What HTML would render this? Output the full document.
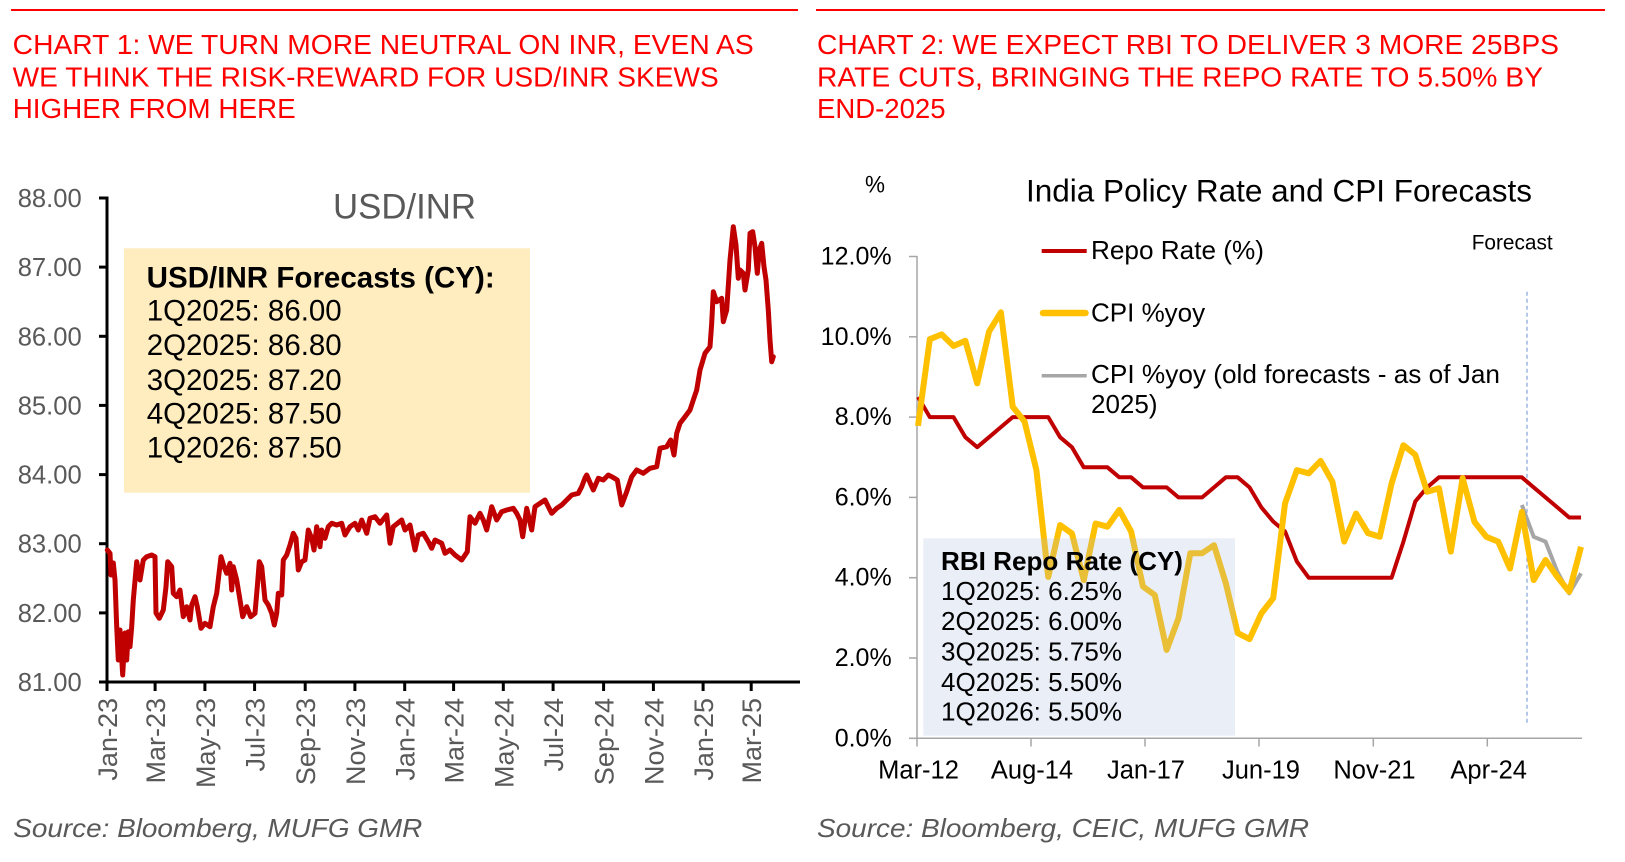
<!DOCTYPE html>
<html>
<head>
<meta charset="utf-8">
<style>
html,body{margin:0;padding:0;background:#fff;}
svg{display:block;}
text{font-family:"Liberation Sans",Arial,sans-serif;}
</style>
</head>
<body>
<svg width="1625" height="862" viewBox="0 0 1625 862" xmlns="http://www.w3.org/2000/svg">
<rect x="0" y="0" width="1625" height="862" fill="#fff"/>

<!-- Top red rules -->
<line x1="11" y1="10" x2="798" y2="10" stroke="#f00" stroke-width="2"/>
<line x1="816" y1="10" x2="1605" y2="10" stroke="#f00" stroke-width="2"/>

<!-- Titles -->
<g fill="#f00" font-size="28">
<text x="12.7" y="54" textLength="741" lengthAdjust="spacingAndGlyphs">CHART 1: WE TURN MORE NEUTRAL ON INR, EVEN AS</text>
<text x="12.7" y="86.5" textLength="706" lengthAdjust="spacingAndGlyphs">WE THINK THE RISK-REWARD FOR USD/INR SKEWS</text>
<text x="12.7" y="118" textLength="283" lengthAdjust="spacingAndGlyphs">HIGHER FROM HERE</text>
<text x="817" y="54" textLength="742" lengthAdjust="spacingAndGlyphs">CHART 2: WE EXPECT RBI TO DELIVER 3 MORE 25BPS</text>
<text x="817" y="86.5" textLength="726" lengthAdjust="spacingAndGlyphs">RATE CUTS, BRINGING THE REPO RATE TO 5.50% BY</text>
<text x="817" y="118" textLength="128.5" lengthAdjust="spacingAndGlyphs">END-2025</text>
</g>

<!-- ================= CHART 1 ================= -->
<text x="333" y="218.3" font-size="35" fill="#595959" textLength="143" lengthAdjust="spacingAndGlyphs">USD/INR</text>

<rect x="124" y="248.3" width="406" height="244.4" fill="#FFEDC0"/>
<g fill="#000" font-size="29.5">
<text x="146.7" y="287.3" font-weight="bold" textLength="348" lengthAdjust="spacingAndGlyphs">USD/INR Forecasts (CY):</text>
<text x="146.7" y="320.7" textLength="195" lengthAdjust="spacingAndGlyphs">1Q2025: 86.00</text>
<text x="146.7" y="355" textLength="195" lengthAdjust="spacingAndGlyphs">2Q2025: 86.80</text>
<text x="146.7" y="390" textLength="195" lengthAdjust="spacingAndGlyphs">3Q2025: 87.20</text>
<text x="146.7" y="423.3" textLength="195" lengthAdjust="spacingAndGlyphs">4Q2025: 87.50</text>
<text x="146.7" y="457.7" textLength="195" lengthAdjust="spacingAndGlyphs">1Q2026: 87.50</text>
</g>

<!-- y labels -->
<g fill="#595959" font-size="26" text-anchor="end">
<text x="81.7" y="207" textLength="64" lengthAdjust="spacingAndGlyphs">88.00</text>
<text x="81.7" y="276.1" textLength="64" lengthAdjust="spacingAndGlyphs">87.00</text>
<text x="81.7" y="345.3" textLength="64" lengthAdjust="spacingAndGlyphs">86.00</text>
<text x="81.7" y="414.4" textLength="64" lengthAdjust="spacingAndGlyphs">85.00</text>
<text x="81.7" y="483.6" textLength="64" lengthAdjust="spacingAndGlyphs">84.00</text>
<text x="81.7" y="552.7" textLength="64" lengthAdjust="spacingAndGlyphs">83.00</text>
<text x="81.7" y="621.9" textLength="64" lengthAdjust="spacingAndGlyphs">82.00</text>
<text x="81.7" y="691" textLength="64" lengthAdjust="spacingAndGlyphs">81.00</text>
</g>

<!-- axes -->
<g stroke="#000" stroke-width="3">
<line x1="107" y1="196.5" x2="107" y2="683.5"/>
<line x1="105.5" y1="682" x2="800" y2="682"/>
<line x1="99" y1="198" x2="107" y2="198"/>
<line x1="99" y1="267.1" x2="107" y2="267.1"/>
<line x1="99" y1="336.3" x2="107" y2="336.3"/>
<line x1="99" y1="405.4" x2="107" y2="405.4"/>
<line x1="99" y1="474.6" x2="107" y2="474.6"/>
<line x1="99" y1="543.7" x2="107" y2="543.7"/>
<line x1="99" y1="612.9" x2="107" y2="612.9"/>
<line x1="99" y1="682" x2="107" y2="682"/>
<line x1="107" y1="682" x2="107" y2="691"/>
<line x1="155.1" y1="682" x2="155.1" y2="691"/>
<line x1="204.9" y1="682" x2="204.9" y2="691"/>
<line x1="254.6" y1="682" x2="254.6" y2="691"/>
<line x1="305.2" y1="682" x2="305.2" y2="691"/>
<line x1="354.9" y1="682" x2="354.9" y2="691"/>
<line x1="404.7" y1="682" x2="404.7" y2="691"/>
<line x1="453.6" y1="682" x2="453.6" y2="691"/>
<line x1="503.3" y1="682" x2="503.3" y2="691"/>
<line x1="553.1" y1="682" x2="553.1" y2="691"/>
<line x1="603.6" y1="682" x2="603.6" y2="691"/>
<line x1="653.4" y1="682" x2="653.4" y2="691"/>
<line x1="703.1" y1="682" x2="703.1" y2="691"/>
<line x1="751.2" y1="682" x2="751.2" y2="691"/>
</g>

<!-- x labels rotated -->
<g fill="#595959" font-size="27" text-anchor="end">
<text transform="translate(117,698) rotate(-90)">Jan-23</text>
<text transform="translate(165.1,698) rotate(-90)">Mar-23</text>
<text transform="translate(214.9,698) rotate(-90)">May-23</text>
<text transform="translate(264.6,698) rotate(-90)">Jul-23</text>
<text transform="translate(315.2,698) rotate(-90)">Sep-23</text>
<text transform="translate(364.9,698) rotate(-90)">Nov-23</text>
<text transform="translate(414.7,698) rotate(-90)">Jan-24</text>
<text transform="translate(463.6,698) rotate(-90)">Mar-24</text>
<text transform="translate(513.3,698) rotate(-90)">May-24</text>
<text transform="translate(563.1,698) rotate(-90)">Jul-24</text>
<text transform="translate(613.6,698) rotate(-90)">Sep-24</text>
<text transform="translate(663.4,698) rotate(-90)">Nov-24</text>
<text transform="translate(713.1,698) rotate(-90)">Jan-25</text>
<text transform="translate(761.2,698) rotate(-90)">Mar-25</text>
</g>

<!-- USD/INR series -->
<polyline fill="none" stroke="#C00000" stroke-width="5" stroke-linejoin="round" stroke-linecap="round" points="107.3,550 110,553.3 111,575 113.3,563 115,580 116.7,626.7 118.3,660 120,630 122.7,675 125,633 126.7,660 128.3,631.7 130,646.7 131.7,626.7 133.3,600 136.7,561.7 140,580 143.3,560 146.7,556.7 151.7,555 155,556.7 156,613 159.3,618.3 163.3,610 166,586.7 167.7,561.7 171.7,566.7 173.3,593.3 176.7,596.7 180,590 183.3,616.7 186.7,606.7 190,620 191.7,605 195,596.7 197.3,606.7 201,628.3 205,623.3 210,626.7 213.3,606.7 216.7,593.3 221,556.7 224,566.7 226.7,573.3 230,563.3 231.7,590 233.3,566.7 236.7,580 240,600 242.7,616.7 246.7,606.7 250.7,616.7 255,613.3 257.3,586.7 259.3,561.7 261.7,566.7 265,600 268.3,605 271.7,613.3 274.3,625 276.7,613.3 278.3,593.3 281.7,595 283.3,560 286.7,555 290,545 293.3,533.3 296,538.3 298.3,570 301.7,561.7 305,560 308.3,530 311.7,538.3 314,550 316.7,526.7 320,546.7 321.7,530 325,538.3 328.3,526.7 331.7,523.3 336.7,525 341.7,523.3 345,535 350,526.7 355,523.3 358.3,530 361.7,520 366.7,533.3 370,518.3 375,516.7 380,523.3 386.7,515 390,543.3 393.3,526.7 401.7,520 405,530 410,525 415,550 418.3,535 423.3,533.3 428.3,541.7 431.7,548.3 435,540 441.7,543.3 445,553.3 450,550 455,555 461.7,560 467.3,551.7 470,516.7 475,523.3 480,513.3 483.3,520 486.7,530 491.7,506.7 496.7,520 501.7,511.7 506.7,510 513.3,508.3 516.7,513.3 520,520 522.7,536.7 526.7,508.3 531.7,530 535,506.7 540,503.3 545,500 548.3,506.7 551.7,513.3 556.7,508.3 561.7,505 566.7,500 571.7,495 578.3,493.3 581.7,486.7 585,478 586.7,475 593.3,490 598.3,478.3 603.3,480 608.3,475 611.7,476.7 617.3,480 621.7,505 626.7,491.7 631.7,476.7 636.7,470 643.3,473.3 650,468.3 656.7,466.7 660,448.3 666.7,446.7 670.7,440 674,455 676.7,433.3 680,423.3 685,416.7 690,410 693.3,400 696.7,390 700,370 705,353.3 710,346.7 711.7,323.3 713.3,291.7 716.7,301.7 721.7,298.3 723.3,321.7 726.7,310 730,260 733.3,226.7 736,245 738.3,278.3 740,270 743.3,273.3 745,290 748.3,270 750,233.3 752.7,231.7 755,246.7 757.3,273.3 759.3,250 761.7,243.3 764,266.7 766,280 768.3,310 770,340 771.7,361.7 773.3,356.7"/>

<text x="13.3" y="837" font-size="26" font-style="italic" fill="#595959" textLength="409" lengthAdjust="spacingAndGlyphs">Source: Bloomberg, MUFG GMR</text>

<!-- ================= CHART 2 ================= -->
<text x="865" y="192.7" font-size="24" fill="#000" textLength="20" lengthAdjust="spacingAndGlyphs">%</text>
<text x="1026" y="201.7" font-size="31.5" fill="#000" textLength="506" lengthAdjust="spacingAndGlyphs">India Policy Rate and CPI Forecasts</text>
<text x="1471.7" y="249.3" font-size="21" fill="#000" textLength="81" lengthAdjust="spacingAndGlyphs">Forecast</text>

<!-- legend -->
<line x1="1041.7" y1="251" x2="1086.7" y2="251" stroke="#C00000" stroke-width="4"/>
<line x1="1043" y1="313" x2="1085.5" y2="313" stroke="#FFC000" stroke-width="6.5" stroke-linecap="round"/>
<line x1="1041.7" y1="375.7" x2="1086.7" y2="375.7" stroke="#A6A6A6" stroke-width="3.5"/>
<g fill="#000" font-size="26">
<text x="1091" y="259" textLength="173" lengthAdjust="spacingAndGlyphs">Repo Rate (%)</text>
<text x="1091" y="321.7">CPI %yoy</text>
<text x="1091" y="383" textLength="409" lengthAdjust="spacingAndGlyphs">CPI %yoy (old forecasts - as of Jan</text>
<text x="1091" y="413">2025)</text>
</g>

<!-- axes -->
<g stroke="#A6A6A6" stroke-width="1.5">
<line x1="917" y1="256" x2="917" y2="738.3"/>
<line x1="917" y1="738.3" x2="1582" y2="738.3"/>
<line x1="909" y1="256.5" x2="917" y2="256.5"/>
<line x1="909" y1="336.8" x2="917" y2="336.8"/>
<line x1="909" y1="417.1" x2="917" y2="417.1"/>
<line x1="909" y1="497.4" x2="917" y2="497.4"/>
<line x1="909" y1="577.7" x2="917" y2="577.7"/>
<line x1="909" y1="658" x2="917" y2="658"/>
<line x1="909" y1="738.3" x2="917" y2="738.3"/>
<line x1="917" y1="738.3" x2="917" y2="746.5"/>
<line x1="1031" y1="738.3" x2="1031" y2="746.5"/>
<line x1="1145" y1="738.3" x2="1145" y2="746.5"/>
<line x1="1259" y1="738.3" x2="1259" y2="746.5"/>
<line x1="1373.3" y1="738.3" x2="1373.3" y2="746.5"/>
<line x1="1487.3" y1="738.3" x2="1487.3" y2="746.5"/>
</g>

<g fill="#000" font-size="25" text-anchor="end">
<text x="891.7" y="264.5" textLength="71" lengthAdjust="spacingAndGlyphs">12.0%</text>
<text x="891.7" y="344.8" textLength="71" lengthAdjust="spacingAndGlyphs">10.0%</text>
<text x="891.7" y="425.1" textLength="57" lengthAdjust="spacingAndGlyphs">8.0%</text>
<text x="891.7" y="505.4" textLength="57" lengthAdjust="spacingAndGlyphs">6.0%</text>
<text x="891.7" y="585.7" textLength="57" lengthAdjust="spacingAndGlyphs">4.0%</text>
<text x="891.7" y="666" textLength="57" lengthAdjust="spacingAndGlyphs">2.0%</text>
<text x="891.7" y="746.3" textLength="57" lengthAdjust="spacingAndGlyphs">0.0%</text>
</g>

<g fill="#000" font-size="25.5" text-anchor="middle">
<text x="918.5" y="778.3">Mar-12</text>
<text x="1032" y="778.3">Aug-14</text>
<text x="1146" y="778.3">Jan-17</text>
<text x="1261" y="778.3">Jun-19</text>
<text x="1374.5" y="778.3">Nov-21</text>
<text x="1488.7" y="778.3">Apr-24</text>
</g>

<!-- forecast divider -->
<line x1="1527" y1="291.7" x2="1527" y2="723.3" stroke="#8FAADC" stroke-width="1.3" stroke-dasharray="4,3"/>

<!-- Repo -->
<polyline fill="none" stroke="#C00000" stroke-width="4" stroke-linejoin="round" points="918,397 929.84,417.1 941.68,417.1 953.52,417.1 965.36,437.2 977.2,447.2 989.04,437.2 1000.88,427.1 1012.72,417.1 1024.56,417.1 1036.4,417.1 1048.24,417.1 1060.08,437.2 1071.92,447.2 1083.76,467.3 1095.6,467.3 1107.44,467.3 1119.28,477.3 1131.12,477.3 1142.96,487.4 1154.8,487.4 1166.64,487.4 1178.48,497.4 1190.32,497.4 1202.16,497.4 1214,487.4 1225.84,477.3 1237.68,477.3 1249.52,487.4 1261.36,507.4 1273.2,521.5 1285.04,531.5 1296.88,561.6 1308.72,577.7 1391.6,577.7 1403.44,541.6 1415.28,501.4 1427.12,487.4 1438.96,477.3 1521.84,477.3 1533.68,487.4 1545.52,497.4 1557.36,507.4 1569.2,517.5 1581.04,517.5"/>

<!-- Old CPI forecasts -->
<polyline fill="none" stroke="#A6A6A6" stroke-width="4" stroke-linejoin="round" points="1521.84,505 1533.68,536.8 1545.52,541.6 1557.36,571.7 1569.2,593.4 1581.04,573.3"/>

<!-- CPI -->
<polyline fill="none" stroke="#FFC000" stroke-width="6" stroke-linejoin="round" points="918,425.9 929.84,339.2 941.68,334.4 953.52,346 965.36,340.8 977.2,383.4 989.04,331.6 1000.88,312.3 1012.72,406.7 1024.56,421.5 1036.4,470.1 1048.24,576.9 1060.08,525.1 1071.92,533.5 1083.76,580.1 1095.6,523.5 1107.44,526.7 1119.28,509.9 1131.12,531.5 1142.96,586.5 1154.8,595 1166.64,650 1178.48,618.3 1190.32,553.2 1202.16,553.2 1214,545.2 1225.84,583.3 1237.68,633.1 1249.52,639.1 1261.36,613.4 1273.2,598.2 1285.04,503.4 1296.88,470.1 1308.72,473.3 1320.56,460.9 1332.4,481.7 1344.24,541.6 1356.08,513.5 1367.92,533.1 1379.76,536.8 1391.6,483.4 1403.44,445.2 1415.28,454.8 1427.12,491.8 1438.96,488.2 1450.8,551.6 1462.64,478.1 1474.48,521.9 1486.32,536.8 1498.16,541.6 1510,568.5 1521.84,511.9 1533.68,580.1 1545.52,560 1557.36,576.9 1569.2,591.8 1581.04,546.8"/>

<!-- RBI box -->
<rect x="923.3" y="538.3" width="311.7" height="197.4" fill="rgb(167,187,223)" fill-opacity="0.25"/>
<g fill="#000" font-size="26">
<text x="941" y="570" font-weight="bold" textLength="242" lengthAdjust="spacingAndGlyphs">RBI Repo Rate (CY)</text>
<text x="941" y="600" textLength="181" lengthAdjust="spacingAndGlyphs">1Q2025: 6.25%</text>
<text x="941" y="630" textLength="181" lengthAdjust="spacingAndGlyphs">2Q2025: 6.00%</text>
<text x="941" y="660.7" textLength="181" lengthAdjust="spacingAndGlyphs">3Q2025: 5.75%</text>
<text x="941" y="691" textLength="181" lengthAdjust="spacingAndGlyphs">4Q2025: 5.50%</text>
<text x="941" y="720.7" textLength="181" lengthAdjust="spacingAndGlyphs">1Q2026: 5.50%</text>
</g>

<text x="817" y="837" font-size="26" font-style="italic" fill="#595959" textLength="492" lengthAdjust="spacingAndGlyphs">Source: Bloomberg, CEIC, MUFG GMR</text>
</svg>
</body>
</html>
